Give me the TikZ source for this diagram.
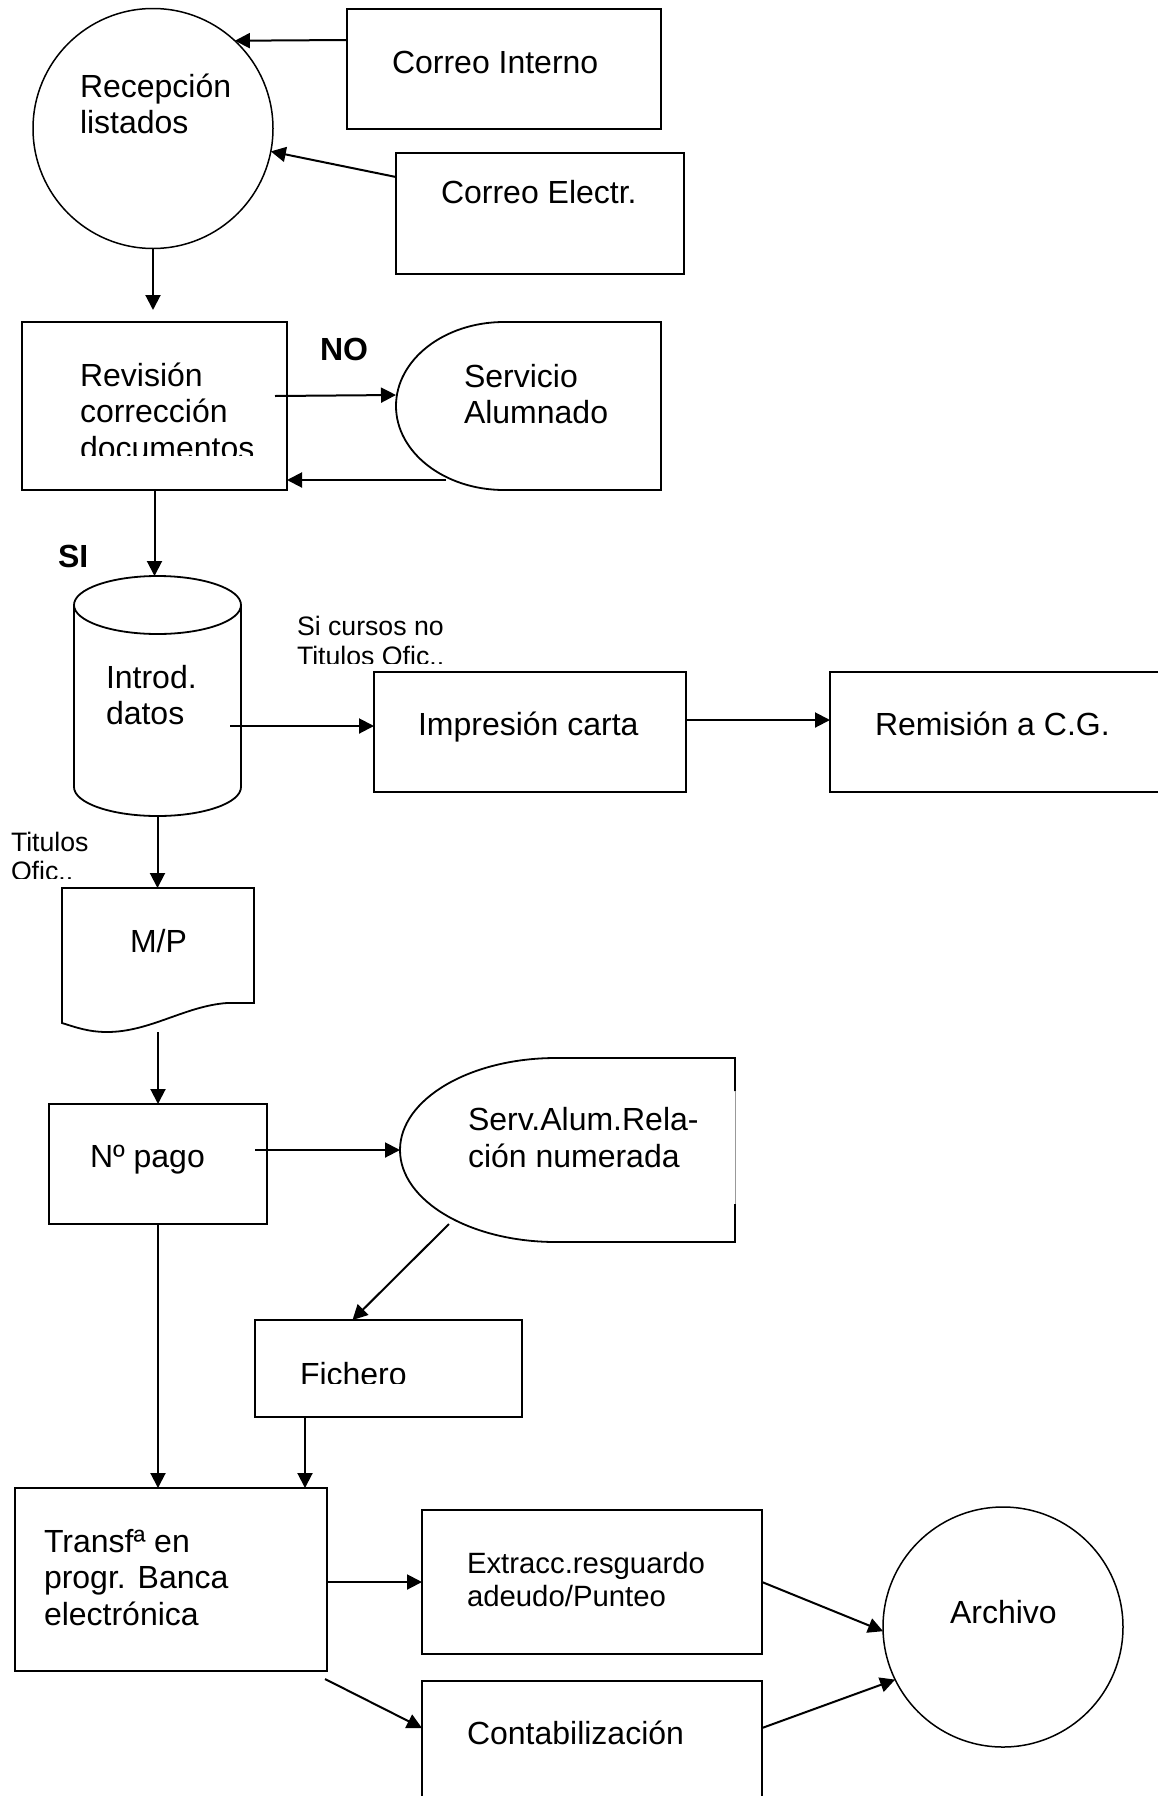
\documentclass[tikz,border=0pt]{standalone}
\usepackage{fontspec}
\setmainfont{Liberation Sans}
\usetikzlibrary{arrows.meta,calc}
\newcommand\fbig{\fontsize{32}{36.8}\selectfont}
\newcommand\fmid{\fontsize{29.33}{33.7}\selectfont}
\newcommand\fsml{\fontsize{26.67}{30.7}\selectfont}

\begin{document}
\begin{tikzpicture}[x=1pt,y=-1pt,
  rectbox/.style={draw, line width=2pt, rectangle, inner sep=0pt, outer sep=0pt, anchor=north west},
  zone/.style={rectangle, inner sep=0pt, outer sep=0pt, anchor=north west},
  rnd/.style={draw, line width=1.5pt, circle, inner sep=0pt, outer sep=0pt, minimum size=240pt},
  shp/.style={line width=1.8pt},
  conn/.style={line width=2pt, -{Triangle[length=15pt,width=15pt]}},
  txt/.style={inner sep=0pt, outer sep=0pt, anchor=base west, font=\fbig},
  tag/.style={txt, font=\fbig\bfseries},
  note/.style={txt, font=\fsml}
]
\fill[white] (0,0) rectangle (1157,1796);
\useasboundingbox (0,0) rectangle (1157,1796);

% ---- shapes ----
\node[rnd] (rec) at (153,128.5) {};
\node[rectbox, minimum width=314pt, minimum height=120pt] (ci) at (347,9) {};
\node[rectbox, minimum width=288pt, minimum height=121pt] (ce) at (396,153) {};
\node[rectbox, minimum width=265pt, minimum height=168pt] (rev) at (22,322) {};

% Servicio Alumnado: rounded left side, straight right side
\node[zone, minimum width=265pt, minimum height=168pt] (serv) at (396,322) {};
\draw[shp] (serv.north east) -- ++(-157,0)
  arc[start angle=270, end angle=90, x radius=108, y radius=84]
  -- (serv.south east) -- cycle;

% database cylinder
\node[zone, minimum width=167pt, minimum height=240pt] (cyl) at (74,576) {};
\draw[shp] ($(cyl.north)+(0,29)$) ellipse[x radius=83.5, y radius=29];
\draw[shp] ($(cyl.north west)+(0,29)$) -- ($(cyl.south west)+(0,-29)$)
  arc[start angle=180, end angle=0, x radius=83.5, y radius=29]
  -- ($(cyl.north east)+(0,29)$);

\node[rectbox, minimum width=312pt, minimum height=120pt] (imp) at (374,672) {};
\node[rectbox, minimum width=330pt, minimum height=120pt] (remi) at (830,672) {};

% document shape
\node[zone, minimum width=192pt, minimum height=144pt] (mp) at (62,888) {};
\draw[shp] (62,1023) -- (62,888) -- (254,888) -- (254,1003) -- (227,1003)
  .. controls (185,1006) and (150,1032) .. (107,1032)
  .. controls (88,1032) and (75,1027) .. (62,1023) -- cycle;

\node[rectbox, minimum width=218pt, minimum height=120pt] (npago) at (49,1104) {};

% Serv.Alum. relation: rounded left side, broken right side
\node[zone, minimum width=335pt, minimum height=184pt] (rel) at (400,1058) {};
\draw[shp] ($(rel.north east)+(0,33)$) -- (rel.north east) -- ++(-179,0)
  arc[start angle=270, end angle=90, x radius=156, y radius=92]
  -- (rel.south east) -- ++(0,-38);
\draw[line width=0.6pt, black!40] ($(rel.north east)+(0,33)$) -- ($(rel.south east)+(0,-38)$);

\node[rectbox, minimum width=267pt, minimum height=97pt] (fich) at (255,1320) {};
\node[rectbox, minimum width=312pt, minimum height=183pt] (transf) at (15,1488) {};
\node[rectbox, minimum width=340pt, minimum height=144pt] (ext) at (422,1510) {};
\node[rectbox, minimum width=340pt, minimum height=140pt] (cont) at (422,1681) {};
\node[rnd] (arch) at (1003,1627) {};

% ---- texts ----
\node[txt] (t-rec1) at (80,97) {Recepción};
\node[txt] (t-rec2) at (80,133.5) {listados};
\node[txt] (t-ci) at (392,73) {Correo Interno};
\node[txt] (t-ce) at (441,203) {Correo Electr.};
\node[txt] (t-rev1) at (80,386) {Revisión};
\node[txt] (t-rev2) at (80,422.5) {corrección};
\begin{scope}
  \clip (60,432) rectangle (280,455);
  \node[txt] (t-rev3) at (80,459) {documentos};
\end{scope}
\node[tag] (t-no) at (320,360) {NO};
\node[txt] (t-serv1) at (464,387) {Servicio};
\node[txt] (t-serv2) at (464,423.5) {Alumnado};
\node[tag] (t-si) at (58,567) {SI};
\node[txt] (t-cyl1) at (106,688) {Introd.};
\node[txt] (t-cyl2) at (106,724.5) {datos};
\node[note] (t-cond1) at (297,635) {Si cursos no};
\begin{scope}
  \clip (290,640) rectangle (480,663);
  \node[note] (t-cond2) at (297,665) {Titulos Ofic..};
\end{scope}
\node[txt] (t-imp) at (418,735) {Impresión carta};
\node[txt] (t-remi) at (875,735) {Remisión a C.G.};
\node[note] (t-tit1) at (11,851) {Titulos};
\begin{scope}
  \clip (0,856) rectangle (140,878.5);
  \node[note] (t-tit2) at (11,880) {Ofic..};
\end{scope}
\node[txt] (t-mp) at (130,952) {M/P};
\node[txt] (t-np) at (90,1167) {Nº pago};
\node[txt] (t-rel1) at (468,1130) {Serv.Alum.Rela-};
\node[txt] (t-rel2) at (468,1167) {ción numerada};
\begin{scope}
  \clip (280,1340) rectangle (520,1383);
  \node[txt] (t-fich) at (300,1385) {Fichero};
\end{scope}
\node[txt] (t-tr1) at (44,1552) {Transfª en};
\node[txt] (t-tr2) at (44,1588.5) {progr. Banca};
\node[txt] (t-tr3) at (44,1625) {electrónica};
\node[txt, font=\fmid] (t-ext1) at (467,1573) {Extracc.resguardo};
\node[txt, font=\fmid] (t-ext2) at (467,1606.5) {adeudo/Punteo};
\node[txt] (t-cont) at (467,1744) {Contabilización};
\node[txt] (t-arch) at (950,1623) {Archivo};

% ---- connectors ----
\draw[conn] ($(ci.north west)+(0,31)$) -- (rec.47);
\draw[conn] ($(ce.north west)+(0,24)$) -- (rec.-11);
\draw[conn, shorten >=12pt] (rec.south) -- (rec.south |- rev.north);
\draw[conn] ($(rev.north east)+(-12,74)$) -- ($(serv.west)+(0,-11)$);
\coordinate (serv-out) at ($(serv.south west)+(50,-10)$);
\draw[conn] (serv-out) -- (serv-out -| rev.east);
\draw[conn] (rev.south) -- (rev.south |- cyl.north);
\coordinate (cyl-out) at ($(cyl.east)+(-11,30)$);
\draw[conn] (cyl-out) -- (cyl-out -| imp.west);
\draw[conn] ($(imp.east)+(0,-12)$) -- ($(remi.west)+(0,-12)$);
\draw[conn] (cyl.south) -- (cyl.south |- mp.north);
\draw[conn] (mp.south) -- (mp.south |- npago.north);
\coordinate (np-out) at ($(npago.east |- rel.west)+(-12,0)$);
\draw[conn] (np-out) -- (rel.west);
\draw[conn] ($(rel.south west)+(49,-18)$) -- ($(fich.north)+(-36,0)$);
\draw[conn] (npago.south) -- (npago.south |- transf.north);
\coordinate (fich-out) at ($(fich.south west)+(50,0)$);
\draw[conn] (fich-out) -- (fich-out |- transf.north);
\draw[conn] (transf.east |- ext.west) -- (ext.west);
\draw[conn] ($(transf.south east)+(-2,8)$) -- ($(cont.north west)+(0,47)$);
\draw[conn] (ext.east) -- (arch.182);
\draw[conn] ($(cont.north east)+(0,47)$) -- (arch.206);
\end{tikzpicture}
\end{document}
